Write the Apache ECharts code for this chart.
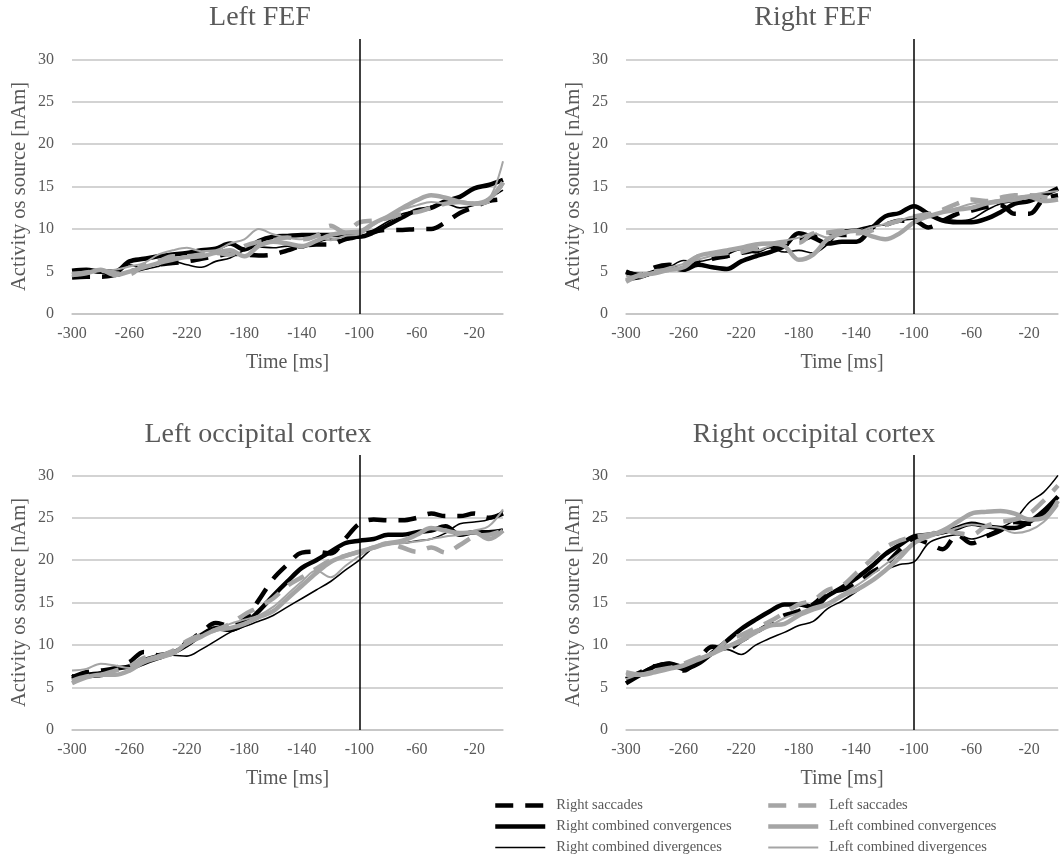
<!DOCTYPE html>
<html>
<head>
<meta charset="utf-8">
<script src="https://cdn.jsdelivr.net/npm/echarts@6/dist/echarts.min.js"></script>
<style>
  html, body { margin: 0; padding: 0; background: #fff; }
  #chart { width: 1062px; height: 856px; }
</style>
</head>
<body>
<div id="chart"></div>
<script>
// Time axis samples (ms before movement onset)
const TIME_MS = [-300,-290,-280,-270,-260,-250,-240,-230,-220,-210,-200,-190,-180,-170,-160,-150,-140,-130,-120,-110,-100,-90,-80,-70,-60,-50,-40,-30,-20,-10,0];
const MARKER_MS = -100;

const SERIES_NAMES = ['Right saccades', 'Right combined convergences', 'Right combined divergences',
                      'Left saccades', 'Left combined convergences', 'Left combined divergences'];
const PANEL_TITLES = ['Left FEF', 'Right FEF', 'Left occipital cortex', 'Right occipital cortex'];

// Left FEF
const leftFEF_rightSacc = [4.3,4.4,4.4,4.6,5.0,5.4,5.8,6.0,6.2,6.5,6.8,7.1,7.0,6.9,7.0,7.5,8.0,8.2,8.2,8.8,9.3,9.7,9.9,9.9,10.0,10.0,10.8,11.9,12.6,13.3,13.5];
const leftFEF_rightConv = [5.1,5.2,5.0,5.0,6.2,6.5,6.8,7.0,7.2,7.5,7.7,8.3,7.6,8.6,9.1,9.2,9.3,9.3,9.3,9.3,9.1,9.6,10.5,11.4,12.2,12.5,13.3,13.8,14.8,15.2,15.8];
const leftFEF_rightDiv  = [4.8,5.0,4.8,4.7,5.8,5.3,5.6,6.2,5.8,5.5,6.2,6.6,7.5,7.9,7.8,8.0,7.8,8.4,8.8,8.7,9.0,9.9,10.9,11.8,12.2,12.7,13.0,12.5,12.8,13.6,14.6];
const leftFEF_leftSacc  = [4.6,4.9,5.1,4.8,4.7,5.8,6.2,6.8,6.8,7.0,7.2,7.0,8.0,8.5,8.7,9.0,8.8,9.2,10.4,9.6,10.8,11.0,11.3,11.8,12.0,12.5,13.0,13.2,13.0,13.3,15.5];
const leftFEF_leftConv  = [4.6,4.8,5.2,4.6,5.0,5.5,6.0,6.4,6.7,6.8,7.2,7.5,6.8,8.0,8.5,8.3,8.0,8.6,9.3,9.6,9.7,10.7,11.5,12.5,13.4,14.0,13.7,13.2,13.0,13.5,15.5];
const leftFEF_leftDiv   = [4.9,5.0,5.1,5.2,5.6,6.0,7.0,7.5,7.8,7.4,7.5,8.3,8.8,10.0,9.4,9.0,8.8,9.2,8.7,9.2,9.4,10.5,11.5,12.3,12.8,13.2,13.0,13.3,13.1,13.5,18.0];

// Right FEF
const rightFEF_rightSacc = [4.9,4.6,5.5,5.8,5.5,6.0,6.5,6.8,7.2,7.5,7.8,8.2,8.6,9.2,9.6,9.3,9.5,10.2,10.5,11.0,11.0,10.2,11.0,11.8,12.2,12.6,12.8,11.8,11.8,13.5,14.0];
const rightFEF_rightConv = [5.0,4.5,5.0,5.5,5.2,5.8,5.5,5.3,6.2,6.8,7.3,8.0,9.5,9.0,8.3,8.5,8.5,10.0,11.5,11.9,12.7,11.8,11.0,10.8,10.8,11.2,12.0,13.0,13.3,14.0,14.8];
const rightFEF_rightDiv  = [4.0,4.2,4.8,5.5,6.3,6.2,6.5,7.0,7.6,7.2,7.8,7.3,7.5,7.2,8.2,9.8,10.0,10.4,10.5,11.0,11.2,11.4,11.2,11.0,11.2,12.2,13.0,13.3,13.8,14.2,14.5];
const rightFEF_leftSacc  = [3.8,4.6,5.0,5.2,5.8,6.8,7.0,7.2,7.3,7.8,8.2,8.5,8.4,9.5,9.6,9.8,9.5,9.8,10.5,11.0,11.5,11.8,12.3,13.0,13.5,13.3,13.7,14.0,14.0,13.8,13.5];
const rightFEF_leftConv  = [4.0,4.6,4.8,5.2,5.5,6.8,7.2,7.5,7.8,8.2,8.3,8.0,6.4,7.0,8.8,9.5,9.8,9.2,8.8,9.5,10.8,11.5,12.0,12.3,12.5,13.0,13.3,13.5,13.8,13.3,13.5];
const rightFEF_leftDiv   = [4.5,4.3,5.0,5.5,5.9,6.4,6.9,7.3,7.8,7.5,8.0,8.6,9.0,9.5,9.0,9.8,9.7,10.2,10.6,11.0,11.5,11.5,12.0,12.5,13.0,13.2,13.5,13.8,14.0,14.3,14.5];

// Left occipital cortex
const leftOcc_rightSacc = [6.2,6.8,7.0,7.3,8.0,9.2,8.8,9.2,10.3,11.5,12.6,12.3,13.0,15.3,17.8,19.5,20.9,21.0,20.8,22.5,24.3,24.8,24.7,24.7,25.0,25.5,25.2,25.2,25.5,25.0,25.5];
const leftOcc_rightConv = [6.0,6.5,6.7,7.2,7.5,8.2,8.7,9.1,10.0,11.2,12.0,11.8,12.5,14.0,15.8,17.5,19.1,20.0,21.0,22.0,22.3,22.5,23.0,23.0,23.3,23.5,24.0,23.0,23.3,23.3,23.5];
const leftOcc_rightDiv  = [6.5,6.2,6.3,6.5,7.0,7.7,8.3,8.8,8.7,9.5,10.5,11.5,12.2,12.8,13.5,14.5,15.5,16.5,17.5,18.8,20.0,21.5,22.0,22.0,22.3,22.5,23.2,24.3,24.5,24.8,25.8];
const leftOcc_leftSacc  = [5.8,6.3,6.5,7.0,7.5,8.5,8.7,9.3,10.5,11.2,11.8,12.5,13.6,14.5,15.5,17.0,18.0,19.0,20.0,20.5,21.0,21.5,22.0,21.5,21.0,21.5,20.9,21.8,22.8,23.0,23.5];
const leftOcc_leftConv  = [5.5,6.2,6.5,6.5,7.0,8.0,8.5,9.0,10.2,11.0,11.8,12.0,12.5,13.3,14.0,15.5,17.0,18.5,19.8,20.5,21.0,21.5,22.0,22.3,23.0,23.8,23.5,23.2,23.3,22.5,23.5];
const leftOcc_leftDiv   = [7.0,7.2,7.8,7.6,7.3,8.3,8.8,9.2,10.0,11.0,11.8,12.5,13.0,13.5,14.5,16.0,17.5,18.8,18.0,19.3,20.5,21.5,21.8,22.0,22.2,22.5,22.8,23.0,23.5,24.0,26.0];

// Right occipital cortex
const rightOcc_rightSacc = [6.0,6.8,7.5,7.5,7.0,8.3,9.8,9.5,10.5,11.5,12.5,13.5,14.0,14.8,16.2,16.5,17.2,18.5,19.5,21.2,22.5,22.0,21.3,23.0,22.0,22.8,23.5,24.5,24.3,25.5,27.5];
const rightOcc_rightConv = [5.5,6.5,7.5,7.8,7.2,7.8,9.1,10.5,11.9,13.0,14.0,14.8,14.8,14.5,15.8,16.8,17.9,19.2,20.7,21.8,22.8,23.0,23.3,23.8,24.3,24.0,23.8,23.8,24.5,25.8,27.5];
const rightOcc_rightDiv  = [5.6,6.8,7.6,8.0,7.6,8.2,9.0,9.5,8.9,10.0,10.8,11.5,12.3,12.8,14.3,15.2,16.3,17.5,18.8,19.5,19.8,22.0,22.7,23.0,22.5,23.0,23.8,24.8,26.8,28.0,30.0];
const rightOcc_leftSacc  = [6.8,6.5,7.0,7.3,7.8,8.5,9.0,10.5,11.2,12.0,12.8,13.8,14.8,15.3,16.5,17.0,18.5,20.0,21.5,22.3,22.8,23.0,23.5,23.2,23.0,24.0,24.5,24.8,25.5,27.0,28.8];
const rightOcc_leftConv  = [6.5,6.5,6.8,7.2,7.6,8.3,9.0,9.8,10.5,11.5,12.3,12.5,13.5,14.2,14.8,15.8,16.5,17.5,18.8,20.3,22.0,22.8,23.5,24.5,25.5,25.7,25.8,25.5,24.8,25.0,27.0];
const rightOcc_leftDiv   = [6.0,6.6,7.0,7.2,7.6,8.5,9.0,9.8,10.8,11.8,12.3,13.2,13.8,14.5,15.0,16.0,17.0,18.2,19.5,20.8,22.0,22.8,23.2,23.8,24.2,24.0,23.8,23.2,23.5,24.5,26.5];

const PANEL_DATA = [
  [leftFEF_rightSacc, leftFEF_rightConv, leftFEF_rightDiv, leftFEF_leftSacc, leftFEF_leftConv, leftFEF_leftDiv],
  [rightFEF_rightSacc, rightFEF_rightConv, rightFEF_rightDiv, rightFEF_leftSacc, rightFEF_leftConv, rightFEF_leftDiv],
  [leftOcc_rightSacc, leftOcc_rightConv, leftOcc_rightDiv, leftOcc_leftSacc, leftOcc_leftConv, leftOcc_leftDiv],
  [rightOcc_rightSacc, rightOcc_rightConv, rightOcc_rightDiv, rightOcc_leftSacc, rightOcc_leftConv, rightOcc_leftDiv]
];

// Appearance
const FONT = '"Liberation Serif", "Times New Roman", serif';
const TEXT = '#595959';
const BLACK = '#000000';
const GREY = '#a5a5a5';
const LINE_STYLES = [
  { color: BLACK, width: 4.5, type: [18, 12] },
  { color: BLACK, width: 4.5, type: 'solid' },
  { color: BLACK, width: 1.6, type: 'solid' },
  { color: GREY,  width: 4.5, type: [18, 12] },
  { color: GREY,  width: 4.5, type: 'solid' },
  { color: GREY,  width: 2,   type: 'solid' }
];

const GRIDS = [
  { left: 72,  top: 39,  width: 431, height: 275, titleX: 260, titleY: 18 },
  { left: 626, top: 39,  width: 432, height: 275, titleX: 813, titleY: 18 },
  { left: 72,  top: 455, width: 431, height: 275, titleX: 258, titleY: 435 },
  { left: 626, top: 455, width: 432, height: 275, titleX: 814, titleY: 435 }
];

function legendBlock(left, names) {
  return {
    orient: 'vertical', left: left, top: 798, height: 80, padding: 0,
    itemWidth: 50, itemHeight: 13, itemGap: 6,
    data: names,
    textStyle: { fontFamily: FONT, fontSize: 14.5, color: TEXT, padding: [0, 0, 0, 6] },
    itemStyle: { color: 'rgba(0,0,0,0)', borderColor: 'rgba(0,0,0,0)', borderWidth: 0 },
    lineStyle: { width: 'inherit' }
  };
}

const option = {
  animation: false,
  backgroundColor: '#ffffff',
  textStyle: { fontFamily: FONT },
  grid: GRIDS.map(g => ({ left: g.left, top: g.top, width: g.width, height: g.height, containLabel: false })),
  xAxis: GRIDS.map((g, i) => ({
    type: 'value', gridIndex: i, min: -300, max: 0, interval: 40,
    name: 'Time [ms]', nameLocation: 'middle', nameGap: 39,
    nameTextStyle: { fontFamily: FONT, fontSize: 20, color: TEXT },
    axisLine: { show: true, lineStyle: { color: '#c4c4c4', width: 1.5 } },
    axisTick: { show: false },
    splitLine: { show: false },
    axisLabel: { fontFamily: FONT, fontSize: 16, color: TEXT, margin: 12, showMaxLabel: false }
  })),
  yAxis: GRIDS.map((g, i) => ({
    type: 'value', gridIndex: i, min: 0, max: 32.4, interval: 5,
    name: 'Activity os source [nAm]', nameLocation: 'middle', nameGap: 42,
    nameTextStyle: { fontFamily: FONT, fontSize: 20.5, color: TEXT, padding: [0, 20, 0, 0] },
    axisLine: { show: false },
    axisTick: { show: false },
    splitLine: { show: true, showMaxLine: false, lineStyle: { color: '#c4c4c4', width: 1.5 } },
    axisLabel: { fontFamily: FONT, fontSize: 16, color: TEXT, margin: 18, showMaxLabel: false }
  })),
  legend: [
    legendBlock(493, SERIES_NAMES.slice(0, 3)),
    legendBlock(766, SERIES_NAMES.slice(3))
  ],
  graphic: GRIDS.map((g, i) => ({
    type: 'text', x: g.titleX, y: g.titleY,
    style: { text: PANEL_TITLES[i], font: '28px ' + FONT, fill: TEXT, textAlign: 'center', textVerticalAlign: 'middle' }
  })),
  series: []
};

PANEL_DATA.forEach((panel, p) => {
  panel.forEach((values, s) => {
    const ser = {
      type: 'line', name: SERIES_NAMES[s], xAxisIndex: p, yAxisIndex: p,
      data: TIME_MS.map((t, k) => [t, values[k]]),
      symbol: 'none', smooth: 0.35,
      lineStyle: Object.assign({ cap: 'butt' }, LINE_STYLES[s]),
      itemStyle: { color: LINE_STYLES[s].color },
      emphasis: { disabled: true }
    };
    if (s === 0) {
      ser.markLine = {
        silent: true, symbol: ['none', 'none'], label: { show: false },
        lineStyle: { color: '#000', width: 1.5, type: 'solid' },
        data: [{ xAxis: MARKER_MS }]
      };
    }
    option.series.push(ser);
  });
});

const chart = echarts.init(document.getElementById('chart'), null, { renderer: 'canvas' });
chart.setOption(option);
</script>
</body>
</html>
